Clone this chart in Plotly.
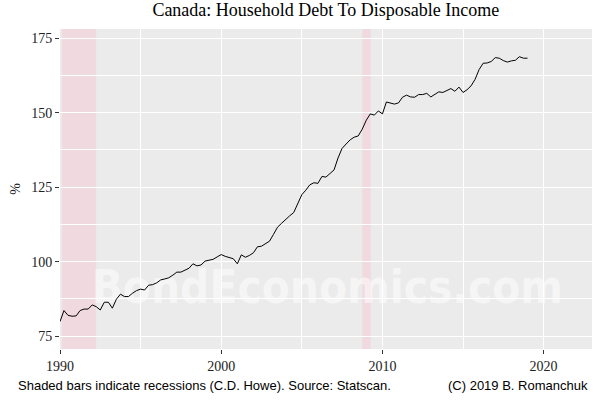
# %%
import pandas as pd
import plotly.graph_objects as go

# %%
# quarterly household debt / disposable income, 1990Q1 onward
debt_ratio = [
    79.9, 83.6, 82.0, 81.7, 81.8, 83.6, 84.1, 84.1, 85.5, 84.9,
    83.8, 86.4, 86.4, 84.4, 87.4, 89.1, 88.3, 88.3, 89.4, 90.3,
    90.8, 90.5, 92.1, 92.3, 92.9, 93.9, 94.2, 94.6, 95.5, 96.5,
    96.5, 97.2, 97.8, 99.3, 98.6, 98.9, 100.2, 100.5, 100.8, 101.6,
    102.4, 101.8, 101.4, 101.0, 99.3, 102.3, 101.5, 102.1, 103.0, 105.0,
    105.2, 106.0, 106.9, 109.2, 111.6, 112.9, 114.3, 115.4, 116.5, 119.5,
    122.5, 124.0, 125.8, 126.5, 126.3, 128.6, 128.4, 129.6, 130.8, 134.8,
    138.0, 139.5, 140.9, 141.8, 142.2, 144.5, 147.5, 149.6, 149.2, 150.6,
    149.6, 153.6, 153.2, 152.9, 153.3, 155.2, 155.9, 155.3, 155.2, 156.1,
    156.1, 156.5, 155.3, 156.3, 157.0, 156.8, 157.4, 158.1, 157.2, 158.6,
    156.8, 157.7, 159.0, 161.2, 164.5, 166.6, 166.7, 167.2, 168.5, 168.3,
    167.5, 167.0, 167.4, 167.6, 168.8, 168.3, 168.3,
]
dates = pd.date_range("1990-01-01", periods=len(debt_ratio), freq="QS")

# recessions (C.D. Howe)
rec_start = ["1990-02-15", "2008-10-01"]
rec_end = ["1992-04-01", "2009-04-15"]

title = "Canada: Household Debt To Disposable Income"
caption_left = "Shaded bars indicate recessions (C.D. Howe). Source: Statscan."
caption_right = "(C) 2019 B. Romanchuk"
watermark = "BondEconomics.com"

serif = "Liberation Serif, Times New Roman, serif"
sans = "Liberation Sans, Arial, sans-serif"

# %%
fig = go.Figure()

# watermark sits under the series line
fig.add_trace(go.Scatter(
    x=["2006-08-01"], y=[89.8], mode="text", text=[watermark],
    textfont=dict(family="Liberation Sans Narrow, DejaVu Sans Condensed, Arial Narrow, sans-serif",
                  size=45.5, weight="bold", color="rgba(255,255,255,0.5)"),
    cliponaxis=False, hoverinfo="skip", showlegend=False))

fig.add_trace(go.Scatter(x=dates, y=debt_ratio, mode="lines",
                         line=dict(color="black", width=1), showlegend=False))

for s, e in zip(rec_start, rec_end):
    fig.add_shape(type="rect", xref="x", yref="paper", x0=s, x1=e, y0=0, y1=1,
                  fillcolor="rgba(255,185,200,0.32)", line_width=0, layer="between")

fig.update_layout(
    width=600, height=400,
    margin=dict(l=60, r=8, t=29, b=51),
    paper_bgcolor="white", plot_bgcolor="#EBEBEB",
    title=dict(text=title, x=0.543, xanchor="center", y=0.977, yanchor="middle",
               font=dict(family=serif, size=18, color="black")),
    font=dict(family=serif, size=14, color="#222"),
)
fig.update_xaxes(
    type="date", range=["1990-01-01", "2023-01-01"], automargin=False,
    tick0="1990-01-01", dtick="M120", tickformat="%Y",
    ticks="outside", ticklen=4, tickcolor="#333", tickwidth=1,
    showgrid=True, gridcolor="white", gridwidth=1.1, zeroline=False,
    minor=dict(dtick="M60", showgrid=True, gridcolor="white", gridwidth=0.5),
    tickfont=dict(family=serif, size=14, color="#222"),
)
fig.update_yaxes(
    range=[70.7, 178.1], tickvals=[75, 100, 125, 150, 175], automargin=False,
    ticks="outside", ticklen=4, tickcolor="#333", tickwidth=1,
    showgrid=True, gridcolor="white", gridwidth=1.1, zeroline=False,
    minor=dict(tickvals=[87.5, 112.5, 137.5, 162.5], showgrid=True,
               gridcolor="white", gridwidth=0.5),
    tickfont=dict(family=serif, size=14, color="#222"),
    title=dict(text="%", font=dict(family=serif, size=14, color="#222"), standoff=7),
)

fig.add_annotation(text=caption_left, xref="paper", yref="paper", x=-0.083, y=-0.114,
                   xanchor="left", yanchor="middle", showarrow=False,
                   font=dict(family=sans, size=13, color="black"))
fig.add_annotation(text=caption_right, xref="paper", yref="paper", x=0.996, y=-0.114,
                   xanchor="right", yanchor="middle", showarrow=False,
                   font=dict(family=sans, size=13, color="black"))

# page body has a default 8px margin; drop it so the figure fills the window
fig.write_html("out.html", config={"displayModeBar": False},
               post_script="document.body.style.margin='0';")
